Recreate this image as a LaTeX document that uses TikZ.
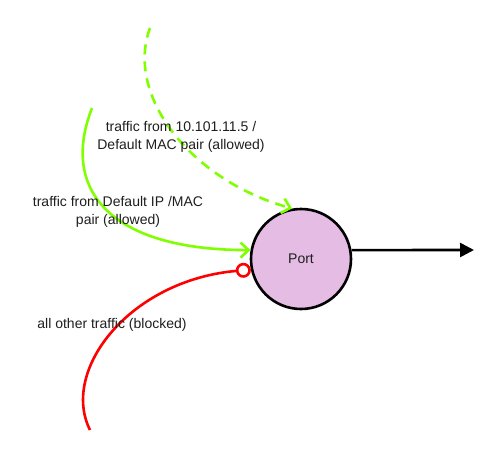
\documentclass[tikz,border=0pt]{standalone}
\usepackage{fontspec}
\setmainfont{Liberation Sans}
\usetikzlibrary{arrows.meta}
\definecolor{lgreen}{RGB}{128,255,0}
\definecolor{portfill}{RGB}{228,188,228}
\definecolor{txt}{RGB}{30,30,30}
\begin{document}
\begin{tikzpicture}[x=1pt,y=-1pt,
  portnode/.style={circle,draw=black,line width=2.6pt,fill=portfill,minimum size=100pt,inner sep=0pt,font=\fontsize{14}{16}\selectfont,text=txt},
  lbl/.style={align=center,font=\fontsize{14}{18}\selectfont,text=txt,inner sep=0pt},
  allow/.style={draw=lgreen,line width=2.6pt,-{Straight Barb[length=8pt,width=15pt,line width=2.6pt]}},
  block/.style={draw=red,line width=2.6pt,-{Circle[open,fill=white,length=15pt,width=15pt,line width=2.6pt]}},
  outarrow/.style={draw=black,line width=2.6pt,-{Triangle[length=14pt,width=14pt]}}]
\useasboundingbox (0,0) rectangle (501,458);
\node[portnode] (port) at (301,259) {Port};
\coordinate (dstart) at (150,28);
\coordinate (sstart) at (92,108);
\coordinate (rstart) at (90,430);
\coordinate (outend) at (474,250);
\draw[allow,dash pattern=on 10pt off 7pt] (dstart) .. controls (125,95) and (190,180) .. (port.100);
\draw[allow] (sstart) .. controls (60,190) and (110,250) .. (port.170);
\draw[block] (rstart) .. controls (60,370) and (130,280) .. (port.192);
\draw[outarrow] (port.10) -- (outend);
\node[lbl] (l1) at (181,137) {traffic from 10.101.11.5 /\\Default MAC pair (allowed)};
\node[lbl] (l2) at (118,212) {traffic from Default IP /MAC\\pair (allowed)};
\node[lbl] (l3) at (112,325) {all other traffic (blocked)};
\end{tikzpicture}
\end{document}
